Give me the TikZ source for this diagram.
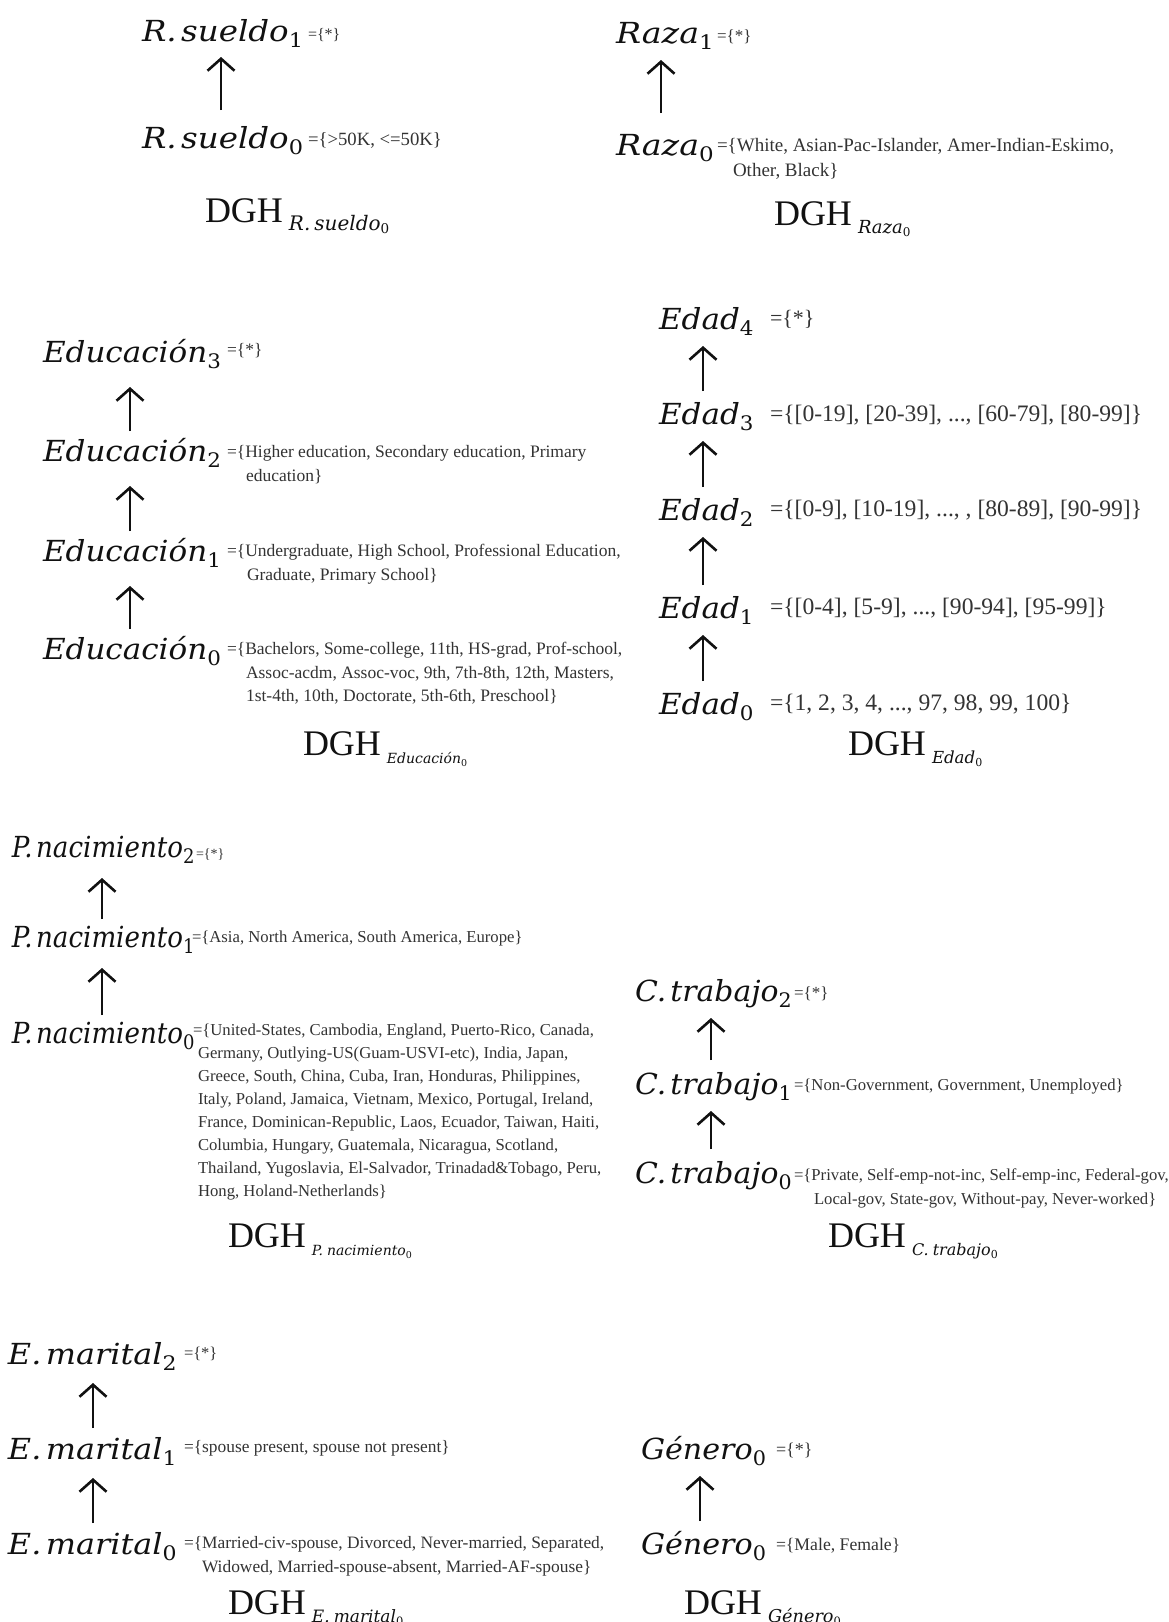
\documentclass[tikz,border=0pt]{standalone}
\usepackage{fontspec}
\usepackage{graphicx}
\setmainfont{Liberation Serif}
\newfontfamily\labfont{DejaVu Serif}
\usetikzlibrary{arrows.meta}
\definecolor{settext}{HTML}{333333}
\definecolor{labtext}{HTML}{111111}
\newcommand\Dt{.\hspace{4pt}}
\newcommand\Lab[3][1]{\scalebox{#1}[1]{\labfont\fontsize{29}{32}\selectfont\itshape #2\raisebox{-6pt}{\upshape\fontsize{20}{22}\selectfont #3}}}
\newcommand\DGH[4]{{\fontsize{36}{38}\selectfont DGH}\hspace{6pt}\raisebox{-8pt}{\labfont\fontsize{#1}{#1}\selectfont\itshape #3\raisebox{-3pt}{\upshape\fontsize{#2}{#2}\selectfont #4}}}
\newcommand\Lines[1]{\begin{tabular}[t]{@{}l@{}}#1\end{tabular}}
\tikzset{
  lab/.style={anchor=base west, inner sep=0pt, outer sep=0pt, text=labtext},
  settxt/.style={anchor=base west, inner sep=0pt, outer sep=0pt, text=settext, font=\fontsize{#1}{23.5}\selectfont},
  settxt/.default=17.5,
  uparr/.style={line width=2.6pt, draw=labtext, -{Straight Barb[length=12pt,width=27pt,line width=2.6pt]}},
}
\begin{document}
\begin{tikzpicture}[x=1pt,y=-1pt]
\useasboundingbox[fill=white] (0,0) rectangle (1168,1622);
% ---------- R.sueldo ----------
\node[lab] (rs1) at (142,41) {\Lab[1.12]{R\Dt sueldo}{1}};
\node[settxt=16] (rs1s) at (308,39) {=\{*\}};
\node[lab] (rs0) at (142,148) {\Lab[1.12]{R\Dt sueldo}{0}};
\node[settxt=18.7] (rs0s) at (308,145) {=\{>50K, <=50K\}};
\draw[uparr] ([shift={(79,-38)}]rs0.base west) -- ([shift={(79,16)}]rs1.base west);
\node[lab] (dgh1) at (205,222) {\DGH{20}{13.5}{R\Dt sueldo}{0}};
% ---------- Raza ----------
\node[lab] (ra1) at (616,43) {\Lab[1.15]{Raza}{1}};
\node[settxt=17] (ra1s) at (717,41) {=\{*\}};
\node[lab] (ra0) at (616,155) {\Lab[1.15]{Raza}{0}};
\node[settxt=19] (ra0s) at (717,151) {=\{White, Asian-Pac-Islander, Amer-Indian-Eskimo,};
\node[settxt=19] (ra0t) at (733,176) {Other, Black\}};
\draw[uparr] ([shift={(45,-42)}]ra0.base west) -- ([shift={(45,17)}]ra1.base west);
\node[lab] (dgh2) at (774,225) {\DGH{18}{12}{Raza}{0}};
% ---------- Educacion ----------
\node[lab] (ed3) at (43,362) {\Lab[1.07]{Educación}{3}};
\node[settxt=17.5] (ed3s) at (227,355) {=\{*\}};
\node[lab] (ed2) at (43,461) {\Lab[1.07]{Educación}{2}};
\node[settxt] (ed2s) at (227,457) {=\{Higher education, Secondary education, Primary};
\node[settxt] (ed2t) at (246,481) {education\}};
\node[lab] (ed1) at (43,561) {\Lab[1.07]{Educación}{1}};
\node[settxt] (ed1s) at (227,556) {=\{Undergraduate, High School, Professional Education,};
\node[settxt] (ed1t) at (247,580) {Graduate, Primary School\}};
\node[lab] (ed0) at (43,659) {\Lab[1.07]{Educación}{0}};
\node[settxt] (ed0s) at (227,654) {=\{Bachelors, Some-college, 11th, HS-grad, Prof-school,};
\node[settxt] (ed0t) at (246,678) {\Lines{Assoc-acdm, Assoc-voc, 9th, 7th-8th, 12th, Masters,\\1st-4th, 10th, Doctorate, 5th-6th, Preschool\}}};
\draw[uparr] ([shift={(87,-30)}]ed2.base west) -- ([shift={(87,25)}]ed3.base west);
\draw[uparr] ([shift={(87,-30)}]ed1.base west) -- ([shift={(87,25)}]ed2.base west);
\draw[uparr] ([shift={(87,-30)}]ed0.base west) -- ([shift={(87,25)}]ed1.base west);
\node[lab] (dgh3) at (303,755) {\DGH{14}{9.5}{Educación}{0}};
% ---------- Edad ----------
\node[lab] (ea4) at (659,329) {\Lab[1.07]{Edad}{4}};
\node[settxt=22] (ea4s) at (770,325) {=\{*\}};
\node[lab] (ea3) at (659,424) {\Lab[1.07]{Edad}{3}};
\node[settxt=23.6] (ea3s) at (770,421) {=\{[0-19], [20-39], ..., [60-79], [80-99]\}};
\node[lab] (ea2) at (659,520) {\Lab[1.07]{Edad}{2}};
\node[settxt=23.6] (ea2s) at (770,516) {=\{[0-9], [10-19], ..., , [80-89], [90-99]\}};
\node[lab] (ea1) at (659,618) {\Lab[1.07]{Edad}{1}};
\node[settxt=23.6] (ea1s) at (770,614) {=\{[0-4], [5-9], ..., [90-94], [95-99]\}};
\node[lab] (ea0) at (659,714) {\Lab[1.07]{Edad}{0}};
\node[settxt=23.6] (ea0s) at (770,710) {=\{1, 2, 3, 4, ..., 97, 98, 99, 100\}};
\draw[uparr] ([shift={(44,-33)}]ea3.base west) -- ([shift={(44,17)}]ea4.base west);
\draw[uparr] ([shift={(44,-33)}]ea2.base west) -- ([shift={(44,17)}]ea3.base west);
\draw[uparr] ([shift={(44,-33)}]ea1.base west) -- ([shift={(44,17)}]ea2.base west);
\draw[uparr] ([shift={(44,-33)}]ea0.base west) -- ([shift={(44,17)}]ea1.base west);
\node[lab] (dgh4) at (848,755) {\DGH{16.6}{11}{Edad}{0}};
% ---------- P.nacimiento ----------
\node[lab] (pn2) at (12,857) {\Lab[0.9]{P\Dt nacimiento}{2}};
\node[settxt=14] (pn2s) at (196,858) {=\{*\}};
\node[lab] (pn1) at (12,947) {\Lab[0.9]{P\Dt nacimiento}{1}};
\node[settxt=16.7] (pn1s) at (192,942) {=\{Asia, North America, South America, Europe\}};
\node[lab] (pn0) at (12,1043) {\Lab[0.9]{P\Dt nacimiento}{0}};
\node[settxt=16.7] (pn0s) at (193,1035) {=\{United-States, Cambodia, England, Puerto-Rico, Canada,};
\node[settxt=16.7, font=\fontsize{16.7}{23.1}\selectfont] (pn0t) at (198,1058) {\Lines{Germany, Outlying-US(Guam-USVI-etc), India, Japan,\\Greece, South, China, Cuba, Iran, Honduras, Philippines,\\Italy, Poland, Jamaica, Vietnam, Mexico, Portugal, Ireland,\\France, Dominican-Republic, Laos, Ecuador, Taiwan, Haiti,\\Columbia, Hungary, Guatemala, Nicaragua, Scotland,\\Thailand, Yugoslavia, El-Salvador, Trinadad\&Tobago, Peru,\\Hong, Holand-Netherlands\}}};
\draw[uparr] ([shift={(90,-28)}]pn1.base west) -- ([shift={(90,21)}]pn2.base west);
\draw[uparr] ([shift={(90,-28)}]pn0.base west) -- ([shift={(90,21)}]pn1.base west);
\node[lab] (dgh5) at (228,1247) {\DGH{14}{9.5}{P\Dt nacimiento}{0}};
% ---------- C.trabajo ----------
\node[lab] (ct2) at (635,1001) {\Lab[1.03]{C\Dt trabajo}{2}};
\node[settxt=17] (ct2s) at (794,998) {=\{*\}};
\node[lab] (ct1) at (635,1094) {\Lab[1.03]{C\Dt trabajo}{1}};
\node[settxt=16.7] (ct1s) at (794,1090) {=\{Non-Government, Government, Unemployed\}};
\node[lab] (ct0) at (635,1183) {\Lab[1.03]{C\Dt trabajo}{0}};
\node[settxt=16.7] (ct0s) at (794,1180) {=\{Private, Self-emp-not-inc, Self-emp-inc, Federal-gov,};
\node[settxt=16.7] (ct0t) at (814,1204) {Local-gov, State-gov, Without-pay, Never-worked\}};
\draw[uparr] ([shift={(76,-34)}]ct1.base west) -- ([shift={(76,17)}]ct2.base west);
\draw[uparr] ([shift={(76,-34)}]ct0.base west) -- ([shift={(76,17)}]ct1.base west);
\node[lab] (dgh6) at (828,1247) {\DGH{16}{11}{C\Dt trabajo}{0}};
% ---------- E.marital ----------
\node[lab] (em2) at (8,1364) {\Lab[1.1]{E\Dt marital}{2}};
\node[settxt=16.5] (em2s) at (184,1358) {=\{*\}};
\node[lab] (em1) at (8,1459) {\Lab[1.1]{E\Dt marital}{1}};
\node[settxt=17.4] (em1s) at (184,1452) {=\{spouse present, spouse not present\}};
\node[lab] (em0) at (8,1554) {\Lab[1.1]{E\Dt marital}{0}};
\node[settxt=17.4] (em0s) at (184,1548) {=\{Married-civ-spouse, Divorced, Never-married, Separated,};
\node[settxt=17.4] (em0t) at (202,1572) {Widowed, Married-spouse-absent, Married-AF-spouse\}};
\draw[uparr] ([shift={(85,-31)}]em1.base west) -- ([shift={(85,19)}]em2.base west);
\draw[uparr] ([shift={(85,-31)}]em0.base west) -- ([shift={(85,19)}]em1.base west);
\node[lab] (dgh7) at (228,1614) {\DGH{17}{11.5}{E\Dt marital}{0}};
% ---------- Genero ----------
\node[lab] (ge1) at (641,1459) {\Lab[1.04]{Género}{0}};
\node[settxt=18] (ge1s) at (776,1455) {=\{*\}};
\node[lab] (ge0) at (641,1554) {\Lab[1.04]{Género}{0}};
\node[settxt=17.7] (ge0s) at (776,1550) {=\{Male, Female\}};
\draw[uparr] ([shift={(59,-33)}]ge0.base west) -- ([shift={(59,17)}]ge1.base west);
\node[lab] (dgh8) at (684,1614) {\DGH{17.7}{11.5}{Género}{0}};
\end{tikzpicture}
\end{document}
